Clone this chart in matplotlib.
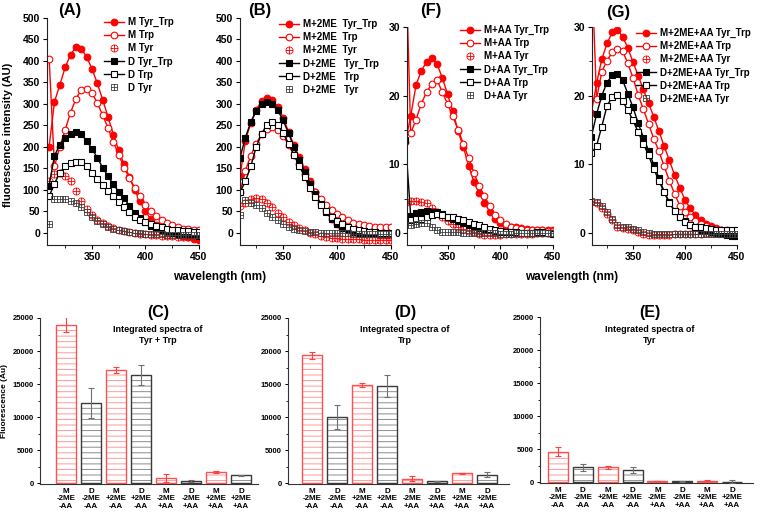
import numpy as np
import matplotlib
matplotlib.use('Agg')
import matplotlib.pyplot as plt
from matplotlib.path import Path

plt.rcParams['font.family'] = ['Liberation Sans', 'DejaVu Sans']
plt.rcParams['font.weight'] = 'bold'
plt.rcParams['hatch.linewidth'] = 0.7

# wavelength grid of the emission spectra (nm)
wl = np.arange(310, 451, 5)

# (A) no additive
A_M_tt = [201, 305, 345, 385, 415, 432, 428, 410, 382, 348, 310, 270, 229, 192, 160,
          130, 100, 74, 50, 32, 19, 9, 3, 0, -4, -7, -10, -13, -16]
A_M_trp = [405, 155, 201, 240, 280, 312, 333, 336, 326, 302, 274, 244, 212, 182, 152,
           128, 105, 85, 66, 50, 40, 31, 23, 18, 14, 10, 9, 8, 8]
A_M_tyr = [122, 137, 140, 133, 120, 98, 75, 56, 42, 31, 23, 17, 12, 8, 5,
           2, 0, -2, -3, -4, -5, -6, -7, -8, -9, -10, -10, -11, -12]
A_D_tt = [110, 180, 205, 222, 230, 234, 230, 214, 196, 175, 152, 132, 113, 96, 81,
          63, 46, 34, 25, 17, 11, 7, 3, 0, -2, -3, -4, -5, -6]
A_D_trp = [85, 115, 140, 155, 163, 166, 165, 155, 140, 125, 112, 98, 86, 72, 60,
           48, 38, 30, 25, 20, 16, 13, 10, 8, 6, 5, 4, 3, 3]
A_D_tyr = [20, 78, 80, 79, 75, 70, 60, 48, 37, 28, 20, 14, 10, 7, 4,
           2, 0, -1, -2, -2, -3, -3, -4, -4, -4, -5, -5, -5, -5]

# (B) +2ME
B_M_tt = [132, 215, 256, 287, 306, 314, 310, 293, 268, 235, 204, 176, 148, 120, 95,
          70, 50, 32, 20, 12, 7, 4, 0, -1, -2, -3, -4, -5, -5]
B_M_trp = [95, 145, 180, 208, 230, 242, 246, 240, 226, 205, 182, 160, 138, 116, 96,
           80, 66, 54, 44, 36, 29, 24, 20, 18, 16, 15, 14, 14, 13]
B_M_tyr = [62, 70, 80, 81, 78, 70, 60, 47, 36, 26, 18, 12, 6, 1, -3,
           -6, -9, -11, -12, -13, -14, -15, -15, -16, -16, -16, -17, -17, -17]
B_D_tt = [175, 222, 258, 283, 300, 305, 300, 285, 262, 232, 200, 170, 142, 115, 90,
          68, 48, 32, 20, 12, 7, 3, 1, 0, -1, -1, -2, -2, -2]
B_D_trp = [95, 120, 155, 200, 230, 252, 258, 250, 232, 208, 182, 156, 130, 105, 84,
           66, 50, 38, 28, 20, 14, 10, 7, 5, 3, 2, 1, 1, 0]
B_D_tyr = [42, 76, 70, 66, 58, 47, 38, 30, 22, 15, 10, 7, 5, 3, 2,
           1, 0, 0, -1, -1, -1, -2, -2, -2, -2, -2, -2, -2, -2]

# (F) +AA
F_M_tt = [13.3, 17.0, 21.5, 23.6, 24.9, 25.5, 24.6, 22.6, 20.2, 17.7, 14.8, 12.5, 9.8, 7.4, 5.8,
          4.4, 3.1, 2.0, 1.4, 1.0, 0.9, 0.8, 0.7, 0.6, 0.5, 0.5, 0.5, 0.4, 0.4]
F_M_trp = [42, 14.5, 16.5, 18.8, 20.5, 21.7, 22.3, 20.5, 18.8, 17.0, 15.0, 13.0, 10.9, 8.8, 6.8,
           5.4, 3.9, 2.6, 1.9, 1.3, 0.9, 0.7, 0.6, 0.5, 0.5, 0.4, 0.4, 0.3, 0.3]
F_M_tyr = [4.4, 4.6, 4.6, 4.5, 4.3, 3.7, 3.1, 2.3, 1.7, 1.3, 0.9, 0.6, 0.3, 0.1, -0.1,
           -0.3, -0.3, -0.3, -0.3, -0.2, -0.2, -0.2, -0.1, -0.1, -0.1, 0.0, 0.0, 0.0, 0.0]
F_D_tt = [13.5, 2.5, 2.9, 3.1, 3.2, 3.1, 3.0, 2.7, 2.4, 2.1, 1.8, 1.5, 1.2, 0.9, 0.7,
          0.5, 0.4, 0.3, 0.2, 0.1, 0.1, 0.0, 0.0, 0.0, 0.0, 0.0, 0.0, 0.0, 0.0]
F_D_trp = [1.8, 1.9, 2.1, 2.1, 2.3, 2.6, 2.7, 2.6, 2.4, 2.3, 2.1, 1.9, 1.6, 1.3, 1.1,
           0.8, 0.6, 0.4, 0.3, 0.2, 0.1, 0.1, 0.0, 0.0, 0.0, 0.1, 0.1, 0.0, -0.1]
F_D_tyr = [1.1, 1.1, 1.3, 1.4, 1.4, 0.8, 0.4, 0.2, 0.1, 0.1, 0.1, 0.0, 0.0, 0.0, 0.0,
           0.0, 0.0, 0.0, -0.1, -0.1, -0.1, 0.0, 0.0, 0.0, 0.0, 0.0, 0.0, 0.0, 0.0]

# (G) +2ME +AA
G_M_tt = [17.5, 21.8, 25.3, 27.6, 29.2, 29.6, 28.6, 27.0, 24.9, 22.9, 20.9, 18.9, 16.9, 14.8, 12.6,
          10.6, 8.4, 6.6, 4.8, 3.6, 2.6, 1.9, 1.3, 1.0, 0.7, 0.5, 0.3, 0.1, 0.0]
G_M_trp = [40, 19.5, 23.5, 25.1, 26.3, 26.8, 26.5, 24.7, 22.6, 20.1, 18.0, 15.9, 13.7, 11.9, 9.7,
           7.6, 5.7, 4.0, 3.1, 2.3, 1.7, 1.3, 1.0, 0.7, 0.6, 0.5, 0.4, 0.3, 0.3]
G_M_tyr = [4.5, 4.3, 3.6, 2.8, 1.9, 0.9, 0.7, 0.6, 0.5, 0.2, -0.1, -0.3, -0.3, -0.3, -0.3,
           -0.3, -0.2, -0.2, -0.2, -0.1, -0.1, -0.1, 0.0, 0.0, 0.0, 0.0, 0.0, 0.0, 0.0]
G_D_tt = [14.0, 17.3, 20.0, 21.9, 23.0, 23.2, 22.3, 20.3, 18.3, 16.0, 13.9, 12.0, 9.9, 8.0, 6.0,
          4.5, 3.2, 2.3, 1.7, 1.2, 0.8, 0.5, 0.3, 0.1, 0.0, -0.1, -0.3, -0.4, -0.5]
G_D_trp = [11.6, 12.7, 15.5, 18.5, 19.8, 20.1, 19.2, 17.9, 16.4, 14.7, 13.0, 11.3, 9.3, 7.6, 5.9,
           4.4, 3.2, 2.3, 1.6, 1.1, 0.9, 0.8, 0.7, 0.6, 0.5, 0.5, 0.4, 0.4, 0.4]
G_D_tyr = [4.7, 4.5, 4.0, 3.1, 2.1, 1.2, 0.9, 0.8, 0.6, 0.4, 0.1, 0.0, -0.1, -0.1, -0.2,
           -0.2, -0.2, -0.1, -0.1, -0.1, -0.1, -0.1, -0.1, -0.1, -0.1, -0.1, -0.1, -0.1, -0.1]

A_labels = ['M Tyr_Trp', 'M Trp', 'M Tyr', 'D Tyr_Trp', 'D Trp', 'D Tyr']
B_labels = ['M+2ME  Tyr_Trp', 'M+2ME  Trp', 'M+2ME  Tyr',
            'D+2ME   Tyr_Trp', 'D+2ME   Trp', 'D+2ME   Tyr']
F_labels = ['M+AA Tyr_Trp', 'M+AA Trp', 'M+AA Tyr', 'D+AA Tyr_Trp', 'D+AA Trp', 'D+AA Tyr']
G_labels = ['M+2ME+AA Tyr_Trp', 'M+2ME+AA Trp', 'M+2ME+AA Tyr',
            'D+2ME+AA Tyr_Trp', 'D+2ME+AA Trp', 'D+2ME+AA Tyr']

# integrated spectra (bar charts)
bar_labels = ['M\n-2ME\n-AA', 'D\n-2ME\n-AA', 'M\n+2ME\n-AA', 'D\n+2ME\n-AA',
              'M\n-2ME\n+AA', 'D\n-2ME\n+AA', 'M\n+2ME\n+AA', 'D\n+2ME\n+AA']
C_vals = [24000, 12150, 17100, 16350, 750, 280, 1600, 1150]
C_errs = [1100, 2250, 500, 1550, 550, 150, 150, 50]
D_vals = [19350, 9960, 14850, 14650, 650, 250, 1450, 1250]
D_errs = [500, 1850, 300, 1650, 400, 100, 100, 350]
E_vals = [4600, 2200, 2200, 1750, 150, 80, 220, 50]
E_errs = [680, 560, 250, 450, 60, 50, 60, 200]

W, H = 760, 520
fig = plt.figure(figsize=(W / 100, H / 100), dpi=100)


def px_axes(l, t, r, b):
    # axes placed by pixel box (left, top, right, bottom)
    return fig.add_axes([l / W, 1 - b / H, (r - l) / W, (b - t) / H])


# crosshair markers (circle + cross, square + cross)
cross = Path([[-1, 0], [1, 0], [0, -1], [0, 1]],
             [Path.MOVETO, Path.LINETO, Path.MOVETO, Path.LINETO])
oplus = Path.make_compound_path(Path.unit_circle(), cross)
sq = Path([[-1, -1], [1, -1], [1, 1], [-1, 1], [-1, -1]],
          [Path.MOVETO, Path.LINETO, Path.LINETO, Path.LINETO, Path.CLOSEPOLY])
boxplus = Path.make_compound_path(sq, cross)

RED = '#ff0000'
BLK = '#000000'
GRY = '#404040'


def spectra_panel(box, series, labels, ylim, yticks, yminor, xlim0, leg_xy):
    ax = px_axes(*box)
    m_tt, m_trp, m_tyr, d_tt, d_trp, d_tyr = series
    ms = 4.8
    kw = dict(lw=1.0, ms=ms, mew=0.8)
    ax.plot(wl, m_tt, '-o', color=RED, mfc=RED, mec=RED, label=labels[0], **kw)
    ax.plot(wl, m_trp, '-o', color=RED, mfc='white', mec=RED, label=labels[1], **kw)
    ax.plot(wl, m_tyr, ls='none', marker=oplus, color=RED, mfc='none', mec=RED,
            label=labels[2], ms=ms + 0.3, mew=0.6)
    ax.plot(wl, d_tt, '-s', color=BLK, mfc=BLK, mec=BLK, label=labels[3], **kw)
    ax.plot(wl, d_trp, '-s', color=BLK, mfc='white', mec=BLK, label=labels[4], **kw)
    ax.plot(wl, d_tyr, ls='none', marker=boxplus, color=GRY, mfc='none', mec=GRY,
            label=labels[5], ms=ms - 0.4, mew=0.6)

    ax.set_xlim(xlim0, 450)
    ax.set_ylim(*ylim)
    ax.set_xticks([350, 400, 450])
    ax.set_xticks([325, 375, 425], minor=True)
    ax.set_yticks(yticks)
    ax.set_yticks(yminor, minor=True)
    for s in ['top', 'right']:
        ax.spines[s].set_visible(False)
    for s in ['left', 'bottom']:
        ax.spines[s].set_linewidth(0.8)
        ax.spines[s].set_color('#222222')
    ax.tick_params(which='major', direction='out', length=3, width=0.8,
                   labelsize=7.5, pad=2)
    ax.tick_params(which='minor', direction='out', length=2, width=0.6)
    for lab in ax.get_xticklabels() + ax.get_yticklabels():
        lab.set_fontweight('bold')

    lx, ly = leg_xy
    ax.legend(loc='upper left', bbox_to_anchor=(lx / W, 1 - ly / H),
              bbox_transform=fig.transFigure, frameon=False, fontsize=7,
              borderpad=0, borderaxespad=0, handlelength=2.1,
              handletextpad=0.35, labelspacing=0.32, numpoints=1)
    return ax


axA = spectra_panel((47, 18, 199, 245),
                    [A_M_tt, A_M_trp, A_M_tyr, A_D_tt, A_D_trp, A_D_tyr], A_labels,
                    (-28, 500), np.arange(0, 501, 50), [], 308, (104, 17))
axB = spectra_panel((240, 18, 391, 245),
                    [B_M_tt, B_M_trp, B_M_tyr, B_D_tt, B_D_trp, B_D_tyr], B_labels,
                    (-28, 500), np.arange(0, 501, 50), [], 310, (279, 19))
axF = spectra_panel((407, 27, 553, 245),
                    [F_M_tt, F_M_trp, F_M_tyr, F_D_tt, F_D_trp, F_D_tyr], F_labels,
                    (-1.75, 30), [0, 10, 20, 30], [5, 15, 25], 311.5, (460, 25))
axG = spectra_panel((592, 27, 737, 245),
                    [G_M_tt, G_M_trp, G_M_tyr, G_D_tt, G_D_trp, G_D_tyr], G_labels,
                    (-1.75, 30), [0, 10, 20, 30], [5, 15, 25], 310.6, (636, 28))

# panel letters and axis titles of the spectra
for txt, x, y in [('(A)', 70, 10), ('(B)', 260, 11), ('(F)', 431, 10), ('(G)', 618, 12)]:
    fig.text(x / W, 1 - y / H, txt, ha='center', va='center', fontsize=12,
             fontweight='bold')
fig.text(8 / W, 1 - 135 / H, 'fluorescence intensity (AU)', rotation=90,
         ha='center', va='center', fontsize=8, fontweight='bold')
for xc in [220, 572]:
    fig.text(xc / W, 1 - 277 / H, 'wavelength (nm)', ha='center', va='center',
             fontsize=8.5, fontweight='bold')


# bar charts
bar_colors = ['r', 'k'] * 4


def bar_panel(box, vals, errs, xlim, letter, subtitle, lx):
    ax = px_axes(*box)
    x = np.arange(len(vals))
    for i in range(len(vals)):
        if bar_colors[i] == 'r':
            hc, ec, erc = '#ff9a9a', '#ff5050', '#ff4040'
        else:
            hc, ec, erc = '#8c8c8c', '#3a3a3a', '#707070'
        # hatch layer then outline layer
        ax.bar(x[i], vals[i], width=0.8, color='white', edgecolor=hc, hatch='---',
               linewidth=0, zorder=2)
        ax.bar(x[i], vals[i], width=0.8, color='none', edgecolor=ec,
               linewidth=1.0, zorder=3)
        ax.errorbar(x[i], vals[i], yerr=errs[i], fmt='none', ecolor=erc,
                    elinewidth=0.8, capsize=2.2, capthick=0.8, zorder=4)
    ax.set_xlim(*xlim)
    ax.set_ylim(-150, 25000)
    ax.set_yticks(np.arange(0, 25001, 5000))
    ax.set_yticks(np.arange(2500, 25000, 5000), minor=True)
    ax.set_xticks(x)
    ax.set_xticklabels(bar_labels, fontsize=5.8, fontweight='bold', linespacing=1.05)
    for s in ['top', 'right']:
        ax.spines[s].set_visible(False)
    for s in ['left', 'bottom']:
        ax.spines[s].set_linewidth(0.8)
        ax.spines[s].set_color('#333333')
    ax.tick_params(axis='x', length=0, pad=3)
    ax.tick_params(axis='y', which='major', direction='out', length=2.5, width=0.7,
                   labelsize=5.5, pad=2)
    ax.tick_params(axis='y', which='minor', direction='out', length=1.5, width=0.6)
    for lab in ax.get_yticklabels():
        lab.set_fontweight('bold')
    fig.text(lx / W, 1 - 313 / H, letter, ha='center', va='center', fontsize=11.5,
             fontweight='bold')
    fig.text(lx / W, 1 - 335 / H, subtitle, ha='center', va='center', fontsize=6.5,
             fontweight='bold', linespacing=1.3)
    return ax


axC = bar_panel((40, 318, 258, 484), C_vals, C_errs, (-1.04, 7.68), '(C)',
                'Integrated spectra of\nTyr + Trp', 158)
axD = bar_panel((288, 318, 509, 484), D_vals, D_errs, (-0.96, 7.88), '(D)',
                'Integrated spectra of\nTrp', 405)
axE = bar_panel((540, 317, 753, 483), E_vals, E_errs, (-0.72, 7.84), '(E)',
                'Integrated spectra of\nTyr', 650)
axC.set_ylabel('Fluorescence (Au)', fontsize=6, fontweight='bold', labelpad=3)

fig.savefig('out.png', dpi=100)
